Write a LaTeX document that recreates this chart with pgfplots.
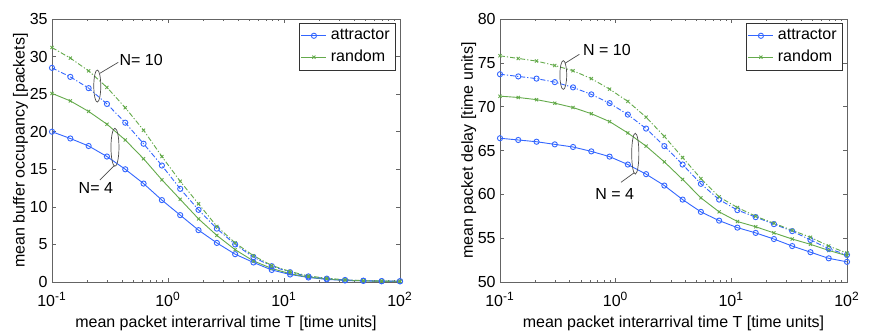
\documentclass[border=0pt]{standalone}
\usepackage{fontspec}
\setmainfont{Liberation Sans}
\usepackage{pgfplots}
\usepackage{pgfplotstable}
\pgfplotsset{compat=1.18}
\definecolor{mblue}{RGB}{51,102,255}
\definecolor{mgreen}{RGB}{100,170,75}
\definecolor{axgray}{RGB}{100,100,100}

% x: 20 log-spaced points from 0.1 to 100
\pgfplotstableread{
x        a4    r4    a10   r10
0.1      20.0  25.1  28.5  31.2
0.14384  19.1  24.1  27.3  29.8
0.20691  18.1  22.7  25.8  28.1
0.29764  16.7  21.0  23.7  25.9
0.42813  15.0  18.9  21.2  23.2
0.61585  13.1  16.4  18.4  20.2
0.88587  10.9  13.6  15.5  16.7
1.27427  8.9   11.0  12.4  13.4
1.83298  6.9   8.4   9.6   10.4
2.63665  5.2   6.2   7.1   7.4
3.79269  3.7   4.3   5.0   5.2
5.45559  2.6   2.8   3.3   3.5
7.84760  1.6   1.8   2.1   2.2
11.2884  1.0   1.1   1.3   1.4
16.2378  0.6   0.65  0.75  0.8
23.3572  0.35  0.4   0.45  0.5
33.5982  0.2   0.22  0.27  0.3
48.3293  0.15  0.15  0.18  0.18
69.5193  0.1   0.1   0.12  0.13
100      0.1   0.1   0.1   0.1
}\occupancy

\pgfplotstableread{
x        a4    r4    a10   r10
0.1      66.4  71.2  73.7  75.8
0.14384  66.2  71.05 73.45 75.5
0.20691  66.0  70.8  73.2  75.2
0.29764  65.7  70.4  72.8  74.7
0.42813  65.4  69.9  72.2  74.1
0.61585  64.9  69.2  71.4  73.2
0.88587  64.3  68.3  70.4  72.0
1.27427  63.4  67.0  69.1  70.6
1.83298  62.3  65.5  67.5  68.8
2.63665  61.0  63.7  65.5  66.6
3.79269  59.4  61.7  63.4  64.2
5.45559  58.0  59.6  61.2  61.8
7.84760  57.0  58.0  59.4  59.7
11.2884  56.2  56.9  58.2  58.5
16.2378  55.6  56.3  57.4  57.5
23.3572  54.9  55.6  56.6  56.7
33.5982  54.1  54.9  55.8  55.9
48.3293  53.4  54.3  54.8  55.1
69.5193  52.7  53.6  53.8  54.1
100      52.3  53.0  53.1  53.3
}\delay

\pgfplotsset{
  legend image code/.code={
    \draw[mark repeat=2,mark phase=2,#1] plot coordinates {(0cm,0cm) (0.22cm,0cm) (0.44cm,0cm)};
  },
  att/.style={mblue, line width=0.45pt, mark=o, mark size=1.3pt, mark options={solid}},
  rnd/.style={mgreen, line width=0.45pt, mark=x, mark size=1.1pt, mark options={solid}},
  dd/.style={dash pattern=on 2.5pt off 1pt on 0.6pt off 1pt},
}

\begin{document}
\fontsize{8}{9.6}\selectfont
\begin{tikzpicture}
\useasboundingbox (0,0) rectangle (442pt,166pt);
\begin{axis}[at={(26pt,25pt)}, anchor=south west,
    xmode=log, xmin=0.1, xmax=100,
    scale only axis, width=174pt, height=131.5pt,
    xtick={0.1,1,10,100},
    xticklabels={10\textsuperscript{-1},10\textsuperscript{0},10\textsuperscript{1},10\textsuperscript{2}},
    tick align=inside,
    major tick length=2pt, minor tick length=1.2pt,
    axis line style={axgray, line width=0.4pt},
    every tick/.style={axgray, line width=0.3pt},
    /pgf/number format/assume math mode=true,
    yticklabel style={inner sep=1pt, xshift=-1pt},
    xticklabel style={inner sep=1pt, yshift=-4pt},
    xlabel={mean packet interarrival time T [time units]},
    xlabel style={yshift=-1pt},
    ylabel style={yshift=-3pt},
    legend cell align=left,
    legend style={at={(1,1)}, xshift=-2pt, yshift=-2pt, anchor=north east,
      draw=black!80, line width=0.4pt, inner sep=1pt, row sep=0pt,
      font=\fontsize{8}{10}\selectfont},
  ymin=0, ymax=35, ytick={0,5,...,35},
  ylabel={mean buffer occupancy [packets]}]
\addplot[att] table[x=x,y=a4] {\occupancy};
\addlegendentry{attractor}
\addplot[rnd] table[x=x,y=r4] {\occupancy};
\addlegendentry{random}
\addplot[att, dd] table[x=x,y=a10] {\occupancy};
\addplot[rnd, dd] table[x=x,y=r10] {\occupancy};
\draw[black!70, line width=0.35pt] (axis cs:0.2457,26.08) ellipse [x radius=1.75pt, y radius=8pt];
\draw[black!70, line width=0.35pt] (axis cs:0.259,27.78) -- (axis cs:0.373,29.24);
\node[anchor=west, inner sep=0pt] at (axis cs:0.38,29.55) {N= 10};
\draw[black!70, line width=0.35pt] (axis cs:0.349,17.93) ellipse [x radius=2pt, y radius=9.5pt];
\draw[black!70, line width=0.35pt] (axis cs:0.344,15.48) -- (axis cs:0.259,13.57);
\node[anchor=west, inner sep=0pt] at (axis cs:0.1686,12.54) {N= 4};
\end{axis}
\begin{axis}[at={(250pt,25pt)}, anchor=south west,
    xmode=log, xmin=0.1, xmax=100,
    scale only axis, width=173.5pt, height=131.5pt,
    xtick={0.1,1,10,100},
    xticklabels={10\textsuperscript{-1},10\textsuperscript{0},10\textsuperscript{1},10\textsuperscript{2}},
    tick align=inside,
    major tick length=2pt, minor tick length=1.2pt,
    axis line style={axgray, line width=0.4pt},
    every tick/.style={axgray, line width=0.3pt},
    /pgf/number format/assume math mode=true,
    yticklabel style={inner sep=1pt, xshift=-1pt},
    xticklabel style={inner sep=1pt, yshift=-4pt},
    xlabel={mean packet interarrival time T [time units]},
    xlabel style={yshift=-1pt},
    ylabel style={yshift=-3pt},
    legend cell align=left,
    legend style={at={(1,1)}, xshift=-2pt, yshift=-2pt, anchor=north east,
      draw=black!80, line width=0.4pt, inner sep=1pt, row sep=0pt,
      font=\fontsize{8}{10}\selectfont},
  ymin=50, ymax=80, ytick={50,55,...,80},
  ylabel={mean packet delay [time units]}]
\addplot[att] table[x=x,y=a4] {\delay};
\addlegendentry{attractor}
\addplot[rnd] table[x=x,y=r4] {\delay};
\addlegendentry{random}
\addplot[att, dd] table[x=x,y=a10] {\delay};
\addplot[rnd, dd] table[x=x,y=r10] {\delay};
\draw[black!70, line width=0.35pt] (axis cs:0.3526,73.61) ellipse [x radius=1.7pt, y radius=7.2pt];
\draw[black!70, line width=0.35pt] (axis cs:0.3648,74.95) -- (axis cs:0.485,75.97);
\node[anchor=west, inner sep=0pt] at (axis cs:0.519,76.5) {N = 10};
\draw[black!70, line width=0.35pt] (axis cs:1.478,64.64) ellipse [x radius=1.8pt, y radius=10.2pt];
\draw[black!70, line width=0.35pt] (axis cs:1.449,62.47) -- (axis cs:1.112,61.37);
\node[anchor=west, inner sep=0pt] at (axis cs:0.663,60.07) {N = 4};
\end{axis}
\end{tikzpicture}
\end{document}
